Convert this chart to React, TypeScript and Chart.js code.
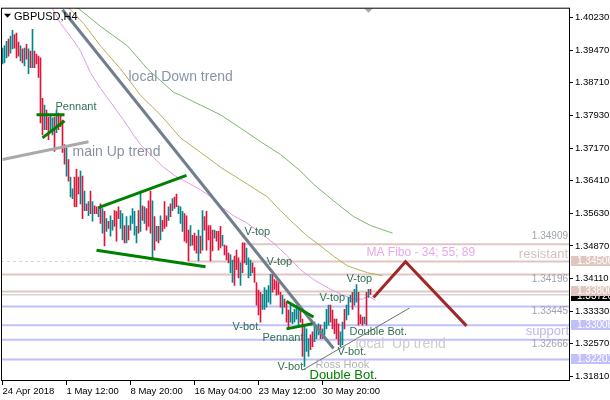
import React, { useEffect, useRef } from 'react';
import { Chart, registerables } from 'chart.js';

Chart.register(...registerables);

// ---- candle data (4H bars, 1-based index) ----
const highs = [
  1.3952, 1.3957, 1.3968, 1.3973, 1.3980, 1.3994, 1.3984, 1.3987, 1.3966, 1.3957,
  1.3950, 1.3952, 1.3961, 1.3950, 1.3945, 1.3996, 1.3945, 1.3938, 1.3933, 1.3929,
  1.3834, 1.3818, 1.3806, 1.3790, 1.3795, 1.3788, 1.3790, 1.3806, 1.3799, 1.3795,
  1.3783, 1.3725, 1.3718, 1.3690, 1.3649, 1.3621, 1.3649, 1.3667, 1.3649, 1.3663,
  1.3651, 1.3616, 1.3586, 1.3591, 1.3616, 1.3591, 1.3581, 1.3579, 1.3579, 1.3586,
  1.3575, 1.3568, 1.3551, 1.3545, 1.3558, 1.3547, 1.3570, 1.3568, 1.3579, 1.3570,
  1.3563, 1.3535, 1.3556, 1.3535, 1.3558, 1.3575, 1.3568, 1.3533, 1.3570, 1.3616,
  1.3581, 1.3579, 1.3575, 1.3593, 1.3616, 1.3593, 1.3556, 1.3533, 1.3533, 1.3558,
  1.3547, 1.3591, 1.3558, 1.3579, 1.3586, 1.3598, 1.3602, 1.3609, 1.3581, 1.3579,
  1.3568, 1.3563, 1.3558, 1.3524, 1.3535, 1.3512, 1.3517, 1.3510, 1.3524, 1.3510,
  1.3570, 1.3556, 1.3568, 1.3535, 1.3535, 1.3524, 1.3524, 1.3521, 1.3521, 1.3533,
  1.3512, 1.3489, 1.3487, 1.3470, 1.3466, 1.3454, 1.3463, 1.3477, 1.3459, 1.3447,
  1.3494, 1.3494, 1.3482, 1.3459, 1.3454, 1.3447, 1.3436, 1.3401, 1.3383, 1.3378,
  1.3373, 1.3389, 1.3383, 1.3394, 1.3420, 1.3420, 1.3408, 1.3405, 1.3401, 1.3378,
  1.3371, 1.3362, 1.3355, 1.3336, 1.3348, 1.3331, 1.3338, 1.3348, 1.3338, 1.3343,
  1.3315, 1.3301, 1.3292, 1.3269, 1.3278, 1.3285, 1.3308, 1.3301, 1.3304, 1.3301,
  1.3292, 1.3308, 1.3338, 1.3348, 1.3348, 1.3336, 1.3315, 1.3315, 1.3304, 1.3285,
  1.3308, 1.3338, 1.3348, 1.3366, 1.3371, 1.3378, 1.3385, 1.3396, 1.3378, 1.3325,
  1.3320, 1.3320, 1.3378, 1.3385, 1.3385,
];
const lows = [
  1.3915, 1.3917, 1.3929, 1.3933, 1.3940, 1.3950, 1.3952, 1.3929, 1.3933, 1.3922,
  1.3917, 1.3910, 1.3926, 1.3892, 1.3906, 1.3906, 1.3906, 1.3915, 1.3883, 1.3776,
  1.3748, 1.3760, 1.3760, 1.3737, 1.3760, 1.3748, 1.3709, 1.3753, 1.3760, 1.3767,
  1.3707, 1.3679, 1.3651, 1.3639, 1.3602, 1.3598, 1.3579, 1.3579, 1.3609, 1.3586,
  1.3551, 1.3570, 1.3570, 1.3558, 1.3563, 1.3545, 1.3563, 1.3563, 1.3556, 1.3540,
  1.3517, 1.3487, 1.3521, 1.3528, 1.3510, 1.3524, 1.3533, 1.3498, 1.3551, 1.3528,
  1.3501, 1.3494, 1.3494, 1.3501, 1.3524, 1.3540, 1.3512, 1.3494, 1.3517, 1.3521,
  1.3547, 1.3540, 1.3524, 1.3533, 1.3517, 1.3459, 1.3477, 1.3498, 1.3494, 1.3501,
  1.3521, 1.3528, 1.3533, 1.3547, 1.3556, 1.3570, 1.3575, 1.3579, 1.3563, 1.3540,
  1.3521, 1.3498, 1.3494, 1.3452, 1.3487, 1.3489, 1.3477, 1.3470, 1.3452, 1.3470,
  1.3477, 1.3524, 1.3477, 1.3501, 1.3452, 1.3475, 1.3505, 1.3498, 1.3477, 1.3482,
  1.3487, 1.3466, 1.3454, 1.3447, 1.3424, 1.3401, 1.3394, 1.3431, 1.3412, 1.3394,
  1.3424, 1.3447, 1.3443, 1.3412, 1.3417, 1.3424, 1.3401, 1.3348, 1.3325, 1.3308,
  1.3338, 1.3338, 1.3343, 1.3355, 1.3350, 1.3378, 1.3385, 1.3371, 1.3373, 1.3343,
  1.3327, 1.3343, 1.3308, 1.3292, 1.3308, 1.3304, 1.3308, 1.3315, 1.3301, 1.3308,
  1.3227, 1.3204, 1.3239, 1.3227, 1.3243, 1.3250, 1.3262, 1.3269, 1.3278, 1.3269,
  1.3269, 1.3278, 1.3292, 1.3301, 1.3308, 1.3292, 1.3281, 1.3269, 1.3255, 1.3250,
  1.3255, 1.3292, 1.3313, 1.3325, 1.3355, 1.3338, 1.3348, 1.3355, 1.3301, 1.3304,
  1.3301, 1.3304, 1.3301, 1.3366, 1.3373,
];
// u = bullish bar, d = bearish bar
const directions = (
  'uuudu uddd udud udud dd' +
  'ddud duud ud dd' +
  'dudu udddu dudud uddu dudud uud' +
  'dduu dudu uuudu dudd dudu duddd ud' +
  'uddu uudd duddd ududd dddud ddud d' +
  'duudd dudd uuudd ddduu uuudd dddud' +
  'dduu uuudd uuudd uuudu uuud dddd uud'
).replace(/ /g, '').split('');

// ---- moving averages (index, price) ----
const ma34X = [26, 30, 36, 40, 45, 50, 55, 61.5, 66.5, 70, 76.5, 81.5, 87.5, 95, 100, 106.5, 111.5, 116.5, 123.5, 130, 136.5, 143.5, 150, 156.5, 165, 171.5, 176.5, 181, 184, 187.5];
const ma34Y = [1.4045, 1.4010, 1.3973, 1.3945, 1.3894, 1.3857, 1.3825, 1.3783, 1.3748, 1.3725, 1.3695, 1.3672, 1.3651, 1.3632, 1.3619, 1.3598, 1.3575, 1.3558, 1.3540, 1.3517, 1.3494, 1.3463, 1.3431, 1.3408, 1.3385, 1.3371, 1.3362, 1.3362, 1.3369, 1.3359];
const ma55X = [34, 35, 41.5, 50, 60, 70, 80, 90, 100, 110, 123.5, 133.5, 140, 146.5, 153.5, 160, 166.5, 173.5, 183.5, 191];
const ma55Y = [1.4047, 1.4042, 1.4010, 1.3957, 1.3903, 1.3841, 1.3795, 1.3741, 1.3707, 1.3672, 1.3632, 1.3602, 1.3570, 1.3540, 1.3510, 1.3487, 1.3463, 1.3440, 1.3424, 1.3417];
const ma89X = [38.5, 50, 63.5, 73.5, 86.5, 90, 100, 110, 120, 130, 140, 150, 156.5, 166.5, 176.5, 185, 196];
const ma89Y = [1.4047, 1.4003, 1.3957, 1.3903, 1.3848, 1.3841, 1.3818, 1.3795, 1.3764, 1.3732, 1.3702, 1.3663, 1.3632, 1.3593, 1.3556, 1.3535, 1.3517];

// ---- levels ----
const resistanceLevels = [1.34909, 1.34506, 1.34196, 1.33800];
const supportLevels = [1.33445, 1.33008, 1.32666, 1.32201];
const lastPrice = 1.33720;

// ---- drawn objects (index, price) ----
const downTrendX = [31, 166.5];
const downTrendY = [1.4042, 1.3246];
const mainUpX = [1, 44];
const mainUpY = [1.3690, 1.3732];
const localUpX = [151, 204.5];
const localUpY = [1.3195, 1.3341];
const pennantTopX = [18, 32];
const pennantTopY = [1.3795, 1.3795];
const pennantDiagX = [21, 32];
const pennantDiagY = [1.3741, 1.3781];
const wedgeTopX = [49, 93];
const wedgeTopY = [1.3577, 1.3653];
const wedgeBotX = [48, 102.5];
const wedgeBotY = [1.3477, 1.3438];
const pennant2TopX = [143, 156.5];
const pennant2TopY = [1.3357, 1.3320];
const pennant2BotX = [143, 156];
const pennant2BotY = [1.3292, 1.3304];
const forecastX = [186.5, 202.5, 233];
const forecastY = [1.3366, 1.3450, 1.3299];

// ---- axes ----
const yTickValues = [1.40230, 1.39470, 1.38710, 1.37930, 1.37170, 1.36410, 1.35630, 1.34870, 1.34110, 1.33330, 1.32570, 1.31810];
const xTickIdx = [1, 33, 65, 97, 129, 161];
const xTickLabels = ['24 Apr 2018', '1 May 12:00', '8 May 20:00', '16 May 04:00', '23 May 12:00', '30 May 20:00'];

const X_MIN = 0.25;
const X_MAX = 284.75;
const Y_MIN = 1.31695;
const Y_MAX = 1.40469;

const UP = '#00868B';
const DOWN = '#E0143C';
const RES = '#DFC6C0';
const SUP = '#C0C0FA';
const NOTE = '#2F7050';
const FONT = '"Liberation Sans", Arial, sans-serif';

const notes: [string, number, number, string, number][] = [
  ['local Down trend', 64, 1.3883, '#8895A8', 14],
  ['main Up trend', 36, 1.3707, '#8A90A0', 14],
  ['Pennant', 27.5, 1.3813, NOTE, 11],
  ['V-top', 122, 1.3519, NOTE, 11],
  ['V-top', 133, 1.3450, NOTE, 11],
  ['V-bot.', 116, 1.3297, NOTE, 11],
  ['Pennant', 131, 1.3271, NOTE, 11],
  ['V-bot.', 138.5, 1.3202, NOTE, 11],
  ['Ross Hook', 157.5, 1.3207, '#B4B4B4', 11],
  ['Double Bot.', 154.5, 1.3183, '#008000', 13],
  ['V-bot.', 168.5, 1.3237, NOTE, 11],
  ['Double Bot.', 174.5, 1.3285, NOTE, 11],
  ['V-top', 159.5, 1.3364, NOTE, 11],
  ['V-top', 173, 1.3410, NOTE, 11],
  ['local  Up trend', 177.5, 1.3255, '#CCCCCC', 14],
  ['MA Fibo - 34; 55; 89', 183, 1.3470, '#E8A8E8', 12],
];

const seg = (xs: number[], ys: number[]) => xs.map((x, i) => ({ x, y: ys[i] }));

function lineDs(data: any[], color: string, width: number, order: number, dash: number[] = []) {
  return {
    type: 'line',
    data,
    borderColor: color,
    borderWidth: width,
    borderDash: dash,
    pointRadius: 0,
    tension: 0,
    fill: false,
    order,
  };
}

const overlay = {
  id: 'overlay',
  afterDatasetsDraw(chart: any) {
    const { ctx, chartArea: a, scales } = chart;
    const xs = scales.x;
    const ys = scales.y;
    ctx.save();
    ctx.beginPath();
    ctx.rect(a.left, a.top, a.right - a.left, a.bottom - a.top);
    ctx.clip();
    ctx.textBaseline = 'middle';
    ctx.textAlign = 'left';
    for (const [t, xi, yp, c, s] of notes) {
      ctx.font = `${s}px ${FONT}`;
      ctx.fillStyle = c;
      ctx.fillText(t, xs.getPixelForValue(xi), ys.getPixelForValue(yp));
    }
    // level texts
    ctx.textAlign = 'right';
    ctx.font = `10px ${FONT}`;
    ctx.fillStyle = '#A0A4B0';
    const rx = a.right - 2;
    ctx.fillText('1.34909', rx, ys.getPixelForValue(1.34909) - 8);
    ctx.fillText('1.34196', rx, ys.getPixelForValue(1.34196) + 5);
    ctx.fillText('1.33445', rx, ys.getPixelForValue(1.33445) + 5);
    ctx.fillText('1.32666', rx, ys.getPixelForValue(1.32666) + 5);
    ctx.font = `13px ${FONT}`;
    ctx.fillStyle = '#D8BEBE';
    ctx.fillText('resistant', rx, ys.getPixelForValue(1.3468));
    ctx.fillStyle = '#B8B8F0';
    ctx.fillText('support', rx + 1, ys.getPixelForValue(1.3285));
    // header
    ctx.textAlign = 'left';
    ctx.fillStyle = '#000';
    ctx.beginPath();
    ctx.moveTo(a.left + 3, a.top + 6);
    ctx.lineTo(a.left + 10, a.top + 6);
    ctx.lineTo(a.left + 6.5, a.top + 10);
    ctx.closePath();
    ctx.fill();
    ctx.font = `11px ${FONT}`;
    ctx.fillText('GBPUSD,H4', a.left + 13, a.top + 9);
    // shift marker
    const sx = xs.getPixelForValue(184);
    ctx.fillStyle = '#A8A8A8';
    ctx.beginPath();
    ctx.moveTo(sx - 4, a.top + 1);
    ctx.lineTo(sx + 4, a.top + 1);
    ctx.lineTo(sx, a.top + 5);
    ctx.closePath();
    ctx.fill();
    ctx.restore();
    // frame
    ctx.save();
    ctx.strokeStyle = '#000';
    ctx.lineWidth = 1;
    ctx.strokeRect(a.left + 0.5, a.top + 0.5, a.right - a.left - 1, a.bottom - a.top - 1);
    ctx.restore();
  },
  afterDraw(chart: any) {
    const { ctx, chartArea: a, scales } = chart;
    const ys = scales.y;
    const boxes: [number, string, string][] = [
      [lastPrice, '#000000', '#FFFFFF'],
      [1.34506, '#DFC6C0', '#FFFFFF'],
      [1.33800, '#DFC6C0', '#FFFFFF'],
      [1.33008, '#C0C0FA', '#FFFFFF'],
      [1.32201, '#C0C0FA', '#FFFFFF'],
    ];
    ctx.save();
    ctx.font = `10px ${FONT}`;
    ctx.textBaseline = 'middle';
    ctx.textAlign = 'left';
    for (const [v, bg, fg] of boxes) {
      let y = Math.round(ys.getPixelForValue(v));
      if (v === lastPrice) y += 1;
      ctx.fillStyle = bg;
      ctx.fillRect(a.right + 1, y - 5, 610 - a.right - 1, 10);
      ctx.fillStyle = fg;
      ctx.fillText(v.toFixed(5), a.right + 7, y + 0.5);
    }
    ctx.restore();
  },
};

export default function App() {
  const ref = useRef<HTMLCanvasElement>(null);
  useEffect(() => {
    const canvas = ref.current;
    if (!canvas) return;
    const bars = highs.map((h, i) => ({ x: i + 1, y: [lows[i], h] }));
    const barColors = directions.map((d) => (d === 'u' ? UP : DOWN));
    const lastX = X_MAX;

    const datasets: any[] = [
      lineDs(seg(forecastX, forecastY), '#A02828', 3, 0),
      lineDs(seg(pennantTopX, pennantTopY), '#008000', 3, 1),
      lineDs(seg(pennantDiagX, pennantDiagY), '#008000', 3, 1),
      lineDs(seg(wedgeTopX, wedgeTopY), '#008000', 3, 1),
      lineDs(seg(wedgeBotX, wedgeBotY), '#008000', 3, 1),
      lineDs(seg(pennant2TopX, pennant2TopY), '#008000', 3, 1),
      lineDs(seg(pennant2BotX, pennant2BotY), '#008000', 3, 1),
      lineDs(seg(downTrendX, downTrendY), '#717E8E', 3, 2),
      lineDs(seg(mainUpX, mainUpY), '#AAAAAA', 3, 2),
      lineDs(seg(localUpX, localUpY), '#707070', 1, 2),
      {
        type: 'bar',
        data: bars,
        backgroundColor: barColors,
        borderWidth: 0,
        barThickness: 1,
        order: 3,
      },
      lineDs(seg(ma34X, ma34Y), '#E39BE3', 1, 4),
      lineDs(seg(ma55X, ma55Y), '#B8AE5A', 1, 4),
      lineDs(seg(ma89X, ma89Y), '#7DB86F', 1, 4),
      lineDs([{ x: X_MIN, y: lastPrice }, { x: lastX, y: lastPrice }], '#C0C0C0', 1, 5),
    ];
    resistanceLevels.forEach((lv) => {
      if (lv === 1.34909) {
        datasets.push(lineDs([{ x: 121, y: lv }, { x: lastX, y: lv }], RES, 2, 6));
      } else if (lv === 1.34506) {
        datasets.push(lineDs([{ x: X_MIN, y: lv }, { x: 94, y: lv }], '#E2CACA', 1, 6, [3, 3]));
        datasets.push(lineDs([{ x: 94, y: lv }, { x: lastX, y: lv }], RES, 2, 6));
      } else {
        datasets.push(lineDs([{ x: X_MIN, y: lv }, { x: lastX, y: lv }], RES, 2, 6));
      }
    });
    supportLevels.forEach((lv) => {
      datasets.push(lineDs([{ x: X_MIN, y: lv }, { x: lastX, y: lv }], SUP, 2, 6));
    });

    const chart = new Chart(canvas, {
      type: 'line',
      data: { datasets },
      options: {
        animation: false,
        responsive: false,
        devicePixelRatio: 1,
        layout: { padding: { left: 1, top: 1, right: 0, bottom: 0 } },
        plugins: { legend: { display: false }, tooltip: { enabled: false } },
        scales: {
          x: {
            type: 'linear',
            min: X_MIN,
            max: X_MAX,
            offset: false,
            position: 'bottom',
            afterFit: (s: any) => { s.height = 19; },
            afterBuildTicks: (s: any) => { s.ticks = xTickIdx.map((v) => ({ value: v })); },
            border: { display: false },
            grid: { drawOnChartArea: false, drawTicks: true, tickLength: 4, color: '#000', offset: false },
            ticks: {
              autoSkip: false,
              maxRotation: 0,
              align: 'start',
              padding: 1,
              color: '#000',
              font: { family: FONT, size: 9.5 },
              callback: (_v: any, i: number) => xTickLabels[i],
            },
          },
          y: {
            type: 'linear',
            position: 'right',
            min: Y_MIN,
            max: Y_MAX,
            afterFit: (s: any) => { s.width = 40; },
            afterBuildTicks: (s: any) => { s.ticks = yTickValues.map((v) => ({ value: v })); },
            border: { display: false },
            grid: { drawOnChartArea: false, drawTicks: true, tickLength: 3, color: '#000' },
            ticks: {
              padding: 2,
              color: '#000',
              font: { family: FONT, size: 9.5 },
              callback: (v: any) => Number(v).toFixed(5),
            },
          },
        },
      },
      plugins: [overlay],
    } as any);
    return () => chart.destroy();
  }, []);

  return (
    <div style={{ position: 'fixed', left: 0, top: 0, width: 610, height: 400, background: '#fff' }}>
      <canvas ref={ref} width={610} height={400} style={{ display: 'block', width: 610, height: 400 }} />
    </div>
  );
}
